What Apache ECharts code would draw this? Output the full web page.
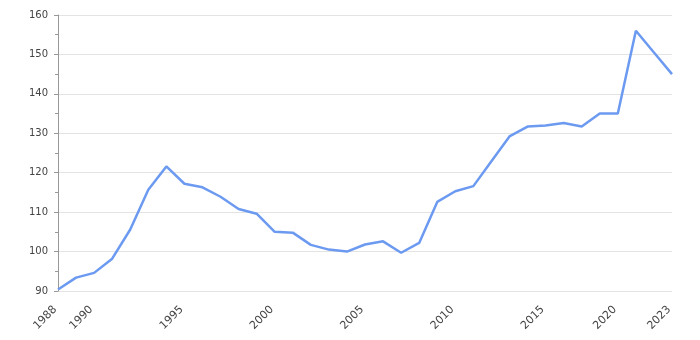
<!DOCTYPE html>
<html>
<head>
<meta charset="utf-8">
<script src="https://cdn.jsdelivr.net/npm/echarts@6/dist/echarts.min.js"></script>
<style>
html,body{margin:0;padding:0;background:#fff;}
#chart{width:700px;height:340px;}
</style>
</head>
<body>
<div id="chart"></div>
<script>
const years = ['1988','1989','1990','1991','1992','1993','1994','1995','1996','1997','1998','1999',
  '2000','2001','2002','2003','2004','2005','2006','2007','2008','2009','2010','2011','2012','2013',
  '2014','2015','2016','2017','2018','2020','2021','2022','2023'];
const values = [90.4,93.4,94.6,98.2,105.6,115.7,121.6,117.2,116.3,113.9,110.8,109.6,
  105.0,104.8,101.7,100.5,100.0,101.8,102.6,99.7,102.2,112.6,115.3,116.6,122.9,129.2,
  131.7,132.0,132.6,131.7,135.0,135.0,156.0,150.5,145.0];
const yTicks = [90,100,110,120,130,140,150,160];

const chart = echarts.init(document.getElementById('chart'), null, {renderer:'canvas'});
chart.setOption({
  animation:false,
  grid:{left:58, right:28, top:15, bottom:49},
  xAxis:{
    type:'category',
    data:years,
    boundaryGap:false,
    axisLine:{show:false},
    axisTick:{show:false},
    axisLabel:{
      rotate:45,
      margin:14,
      padding:[0,4,0,0],
      fontFamily:'DejaVu Sans', fontSize:11, color:'#444',
      interval:function(i,v){return i===0 || i===years.length-1 || (+v)%5===0;}
    }
  },
  yAxis:{
    type:'value',
    min:yTicks[0],
    max:yTicks[yTicks.length-1],
    interval:10,
    axisLine:{show:true, lineStyle:{color:'#999', width:1}},
    axisTick:{show:true, length:4, lineStyle:{color:'#999'}},
    minorTick:{show:true, splitNumber:2, length:3, lineStyle:{color:'#999'}},
    splitLine:{show:true, lineStyle:{color:'#e3e3e3', width:1}},
    axisLabel:{margin:10, fontFamily:'DejaVu Sans', fontSize:10, color:'#444'}
  },
  series:[{
    type:'line',
    data:values,
    showSymbol:false,
    lineStyle:{color:'#6c9af0', width:2.5},
    itemStyle:{color:'#6c9af0'}
  }]
});
</script>
</body>
</html>
